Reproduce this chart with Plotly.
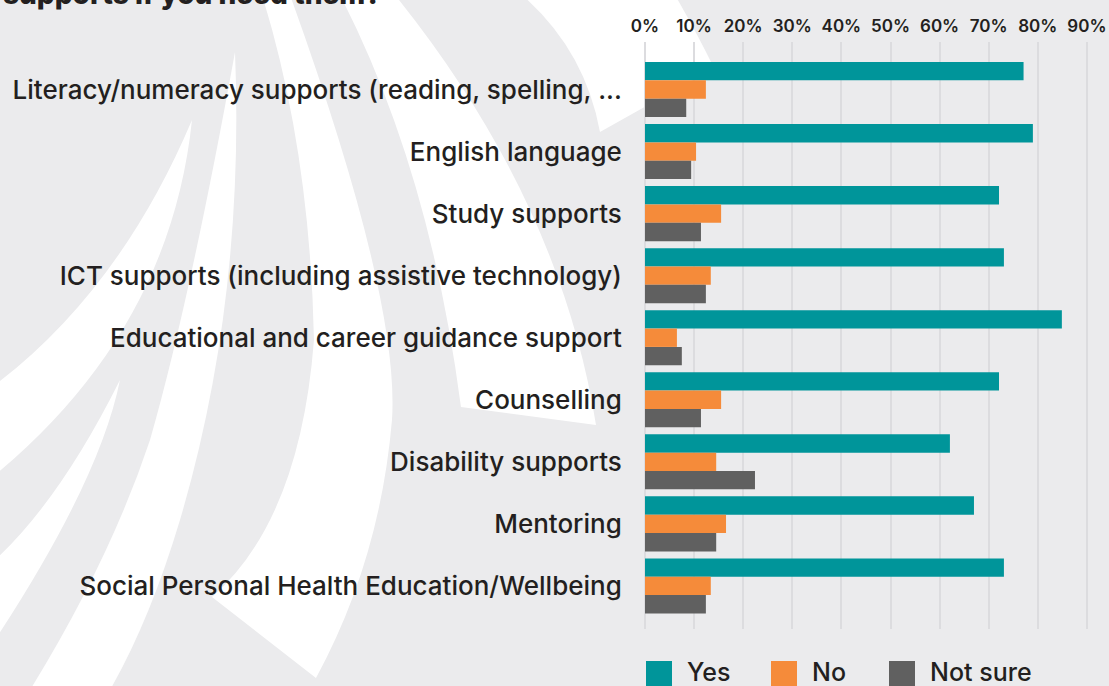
import plotly.graph_objects as go

# Survey responses (% of respondents)
categories = [
    "Literacy/numeracy supports (reading, spelling, ...",
    "English language",
    "Study supports",
    "ICT supports (including assistive technology)",
    "Educational and career guidance support",
    "Counselling",
    "Disability supports",
    "Mentoring",
    "Social Personal Health Education/Wellbeing",
]
yes_vals = [77.1, 79.0, 72.1, 73.1, 84.9, 72.1, 62.1, 67.0, 73.1]
no_vals = [12.4, 10.4, 15.5, 13.4, 6.5, 15.5, 14.5, 16.5, 13.4]
notsure_vals = [8.4, 9.4, 11.4, 12.4, 7.5, 11.4, 22.4, 14.5, 12.4]
series_names = ["Yes", "No", "Not sure"]
series_colors = ["#00959A", "#F58B3A", "#606060"]
tick_vals = [0, 10, 20, 30, 40, 50, 60, 70, 80, 90]
tick_text = ["0%", "10%", "20%", "30%", "40%", "50%", "60%", "70%", "80%", "90%"]

W, H = 1109, 686
ML, MR, MT, MB = 645, 0, 42, 57
PW, PH = W - ML - MR, H - MT - MB
BG = "#EBEBED"
FONT = "Inter"
TEXT = "#231F20"


def px(x, y):
    """Pixel position -> paper coordinates."""
    return (x - ML) / PW, (H - MB - y) / PH


def path(cmds):
    out = []
    for c in cmds:
        op, pts = c[0], c[1:]
        s = op
        for (x, y) in pts:
            a, b = px(x, y)
            s += f" {a:.4f},{b:.4f}"
        out.append(s)
    return " ".join(out) + " Z"


# decorative white sweeping bands behind the chart
bands = [
    # upper right band with slanted end
    [("M", (522, -5)), ("L", (675, -5)), ("Q", (698, 35), (714, 68)),
     ("L", (600, 132)), ("Q", (585, 50), (522, -5))],
    # band ending in a slanted cut near the middle
    [("M", (340, -5)), ("L", (395, -5)), ("Q", (560, 200), (596, 425)),
     ("L", (461, 407)), ("Q", (430, 170), (340, -5))],
    # long tapering band ending in a point
    [("M", (262, -5)), ("L", (290, -5)), ("Q", (400, 300), (392, 420)),
     ("Q", (380, 560), (316, 678)), ("L", (212, 597)), ("Q", (300, 520), (314, 340)),
     ("Q", (310, 150), (262, -5))],
    # band from a thin tip sweeping to the lower left
    [("M", (235, 52)), ("Q", (245, 300), (180, 520)), ("Q", (150, 620), (110, 690)),
     ("L", (30, 690)), ("Q", (110, 560), (150, 440)), ("Q", (190, 300), (235, 52))],
    # leftmost band from a tip to the left edge
    [("M", (192, 120)), ("Q", (170, 330), (-5, 475)), ("L", (-5, 385)),
     ("Q", (120, 290), (192, 120))],
    # lower-left sweep
    [("M", (-5, 560)), ("Q", (60, 500), (120, 380)), ("Q", (100, 480), (-5, 640))],
]

shapes = []
for b in bands:
    shapes.append(dict(type="path", xref="paper", yref="paper", path=path(b),
                       fillcolor="white", line=dict(width=0), layer="below"))

fig = go.Figure()
for name, vals, col in zip(series_names, [yes_vals, no_vals, notsure_vals], series_colors):
    fig.add_trace(go.Bar(
        y=categories, x=vals, name=name, orientation="h",
        marker=dict(color=col, line=dict(width=0)),
        showlegend=False, hoverinfo="x+y",
    ))

# legend drawn as squares + labels along the bottom
legend_x = [646, 771, 889]
annotations = []
for name, col, lx in zip(series_names, series_colors, legend_x):
    x0, y0 = px(lx, 661)
    x1, y1 = px(lx + 26, 687)
    shapes.append(dict(type="rect", xref="paper", yref="paper", x0=x0, x1=x1,
                       y0=y1, y1=y0, fillcolor=col, line=dict(width=0)))
    tx, ty = px(lx + 40, 688)
    annotations.append(dict(text=name, xref="paper", yref="paper", x=tx, y=ty,
                            xanchor="left", yanchor="bottom", showarrow=False,
                            borderpad=0,
                            font=dict(family=FONT, size=25, color=TEXT, weight=500)))

# title line at the very top
tx, ty = px(2, 12)
annotations.append(dict(text="supports if you need them?", xref="paper", yref="paper",
                        x=tx, y=ty, xanchor="left", yanchor="bottom", showarrow=False,
                        borderpad=0,
                        font=dict(family=FONT, size=28, color=TEXT, weight=800)))

n = len(categories)
fig.update_layout(
    width=W, height=H,
    margin=dict(l=ML, r=MR, t=MT, b=MB, pad=0),
    paper_bgcolor=BG, plot_bgcolor="rgba(0,0,0,0)",
    barmode="group", bargap=0.113, bargroupgap=0,
    shapes=shapes, annotations=annotations,
    font=dict(family=FONT, color=TEXT),
    xaxis=dict(
        range=[0, PW / 49.1 * 10], side="top",
        tickvals=tick_vals, ticktext=tick_text,
        showgrid=True, gridcolor="#DCDCDF", gridwidth=2,
        zeroline=True, zerolinecolor="#DCDCDF", zerolinewidth=2,
        showline=False, ticks="outside", ticklen=2, tickcolor="rgba(0,0,0,0)",
        tickfont=dict(family=FONT, size=17, color=TEXT, weight=600),
        fixedrange=True,
    ),
    yaxis=dict(
        type="category", categoryorder="array", categoryarray=categories,
        range=[n - 0.5 + 0.194, -0.766],
        showgrid=False, zeroline=False, showline=False,
        ticks="outside", ticklen=17, tickcolor="rgba(0,0,0,0)",
        tickfont=dict(family=FONT, size=26, color=TEXT, weight=500),
        fixedrange=True,
    ),
)

fig.write_html("out.html", config={"displayModeBar": False})
